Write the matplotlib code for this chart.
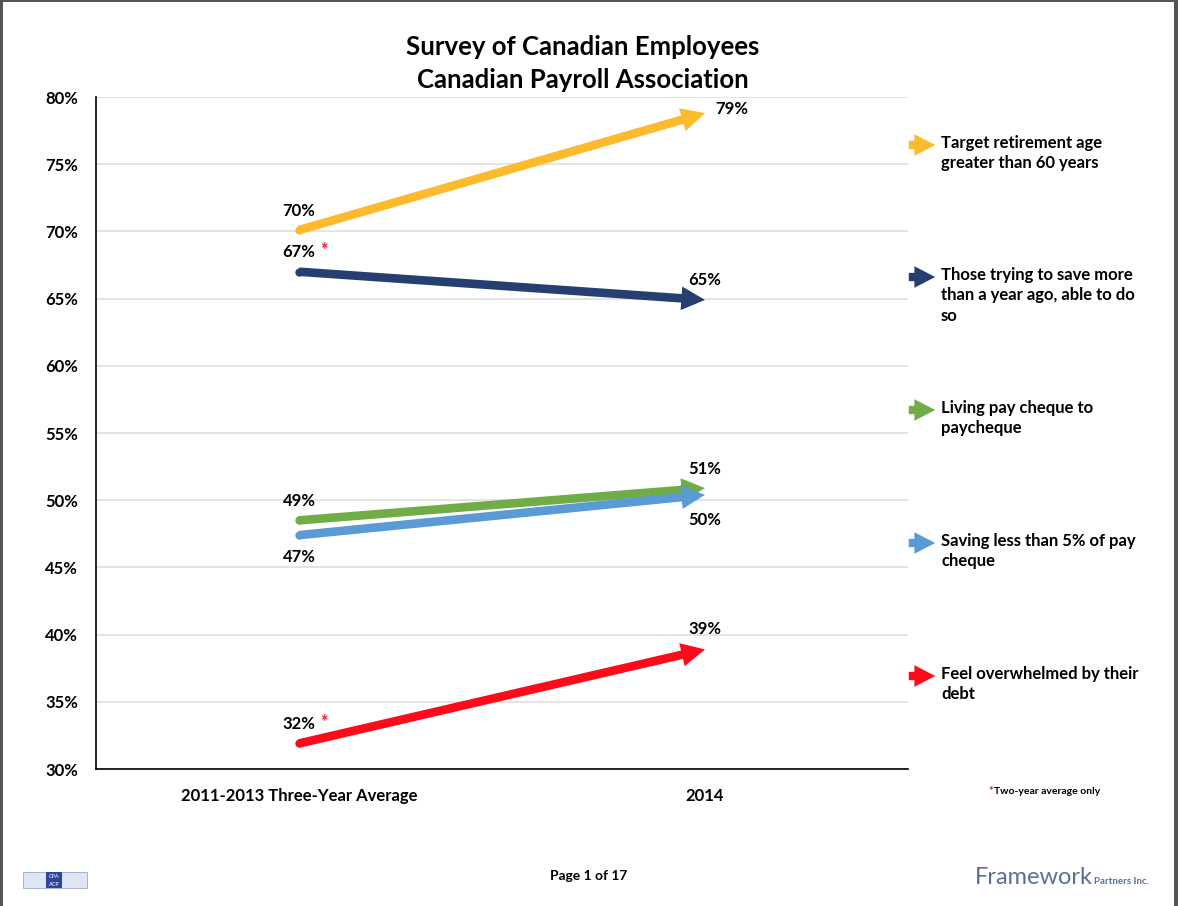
import matplotlib
matplotlib.use("Agg")
import matplotlib.pyplot as plt
from matplotlib.patches import Rectangle, FancyArrowPatch

plt.rcParams['font.family'] = ['Lato', 'DejaVu Sans']

# data
categories = ["2011-2013 Three-Year Average", "2014"]
series_names = [
    "Target retirement age\ngreater than 60 years",
    "Those trying to save more\nthan a year ago, able to do\nso",
    "Living pay cheque to\npaycheque",
    "Saving less than 5% of pay\ncheque",
    "Feel overwhelmed by their\ndebt",
]
start_vals = [70.1, 67.0, 48.5, 47.4, 31.9]
end_vals = [78.8, 64.9, 50.9, 50.4, 38.9]
start_labels = ["70%", "67%", "49%", "47%", "32%"]
end_labels = ["79%", "65%", "51%", "50%", "39%"]
two_year = [False, True, False, False, True]
colors = ["#FDBA2D", "#243F70", "#70AD47", "#5B9BD5", "#FF0A1A"]
yticks = [30, 35, 40, 45, 50, 55, 60, 65, 70, 75, 80]

W, H = 1178, 906
fig = plt.figure(figsize=(W / 100, H / 100), dpi=100)
ax = fig.add_axes([96 / W, 1 - 769 / H, (908 - 96) / W, (769 - 97) / H])

ax.set_xlim(-0.5, 1.5)
ax.set_ylim(30, 80)
ax.set_yticks(yticks)
ax.set_yticklabels([f"{t}%" for t in yticks], fontsize=12, fontweight='bold')
ax.set_xticks([0, 1])
ax.set_xticklabels(categories, fontsize=12, fontweight='bold')
ax.tick_params(axis='both', length=0)
ax.tick_params(axis='y', pad=13)
ax.tick_params(axis='x', pad=14)
ax.grid(axis='y', color='#dddddd', lw=1.1)
ax.set_axisbelow(True)
for s in ['top', 'right']:
    ax.spines[s].set_visible(False)
ax.spines['left'].set_linewidth(1.2)
ax.spines['bottom'].set_linewidth(1.2)

# label offsets in points (start, end)
start_off = [(0, 14), (0, 14), (0, 14), (0, -16), (0, 14)]
end_off = [(19, 3), (0, 14), (0, 14), (0, -18), (0, 15)]

arrow_style = 'simple,head_length=17,head_width=17,tail_width=6.2'
for i in range(len(start_vals)):
    ax.annotate('', xy=(1, end_vals[i]), xytext=(0, start_vals[i]),
                arrowprops=dict(arrowstyle=arrow_style, mutation_scale=1,
                                facecolor=colors[i], edgecolor='none', lw=0,
                                shrinkA=0, shrinkB=0), zorder=3)
    ax.plot(0, start_vals[i], 'o', ms=6.0, color=colors[i], mew=0, zorder=3)
    ax.annotate(start_labels[i], xy=(0, start_vals[i]), xytext=start_off[i],
                textcoords='offset points', ha='center', va='center',
                fontsize=12, fontweight='bold')
    if two_year[i]:
        ax.annotate('*', xy=(0, start_vals[i]), xytext=(start_off[i][0] + 18, start_off[i][1] + 1),
                    textcoords='offset points', ha='center', va='center',
                    fontsize=13, fontweight='bold', color='#e0202a')
    ax.annotate(end_labels[i], xy=(1, end_vals[i]), xytext=end_off[i],
                textcoords='offset points', ha='center', va='center',
                fontsize=12, fontweight='bold')

# legend on the right
leg_y = [145, 277, 410, 543, 676]
for i in range(len(series_names)):
    y = 1 - leg_y[i] / H
    fig.add_artist(FancyArrowPatch(
        (906 / W, y), (938 / W, y), transform=fig.transFigure,
        arrowstyle='simple,head_length=15,head_width=15.5,tail_width=6',
        mutation_scale=1, facecolor=colors[i], edgecolor='none', lw=0))
    fig.text(941 / W, y + 10 / H, series_names[i], ha='left', va='top',
             fontsize=12, fontweight='bold', linespacing=1.33)

# title
fig.text(583 / W, 1 - 47 / H, "Survey of Canadian Employees", ha='center', va='center',
         fontsize=18.5, fontweight='bold')
fig.text(583 / W, 1 - 80 / H, "Canadian Payroll Association", ha='center', va='center',
         fontsize=18.5, fontweight='bold')

# footnote
fig.text(993 / W, 1 - 791 / H, "*", ha='right', va='center', fontsize=8,
         fontweight='bold', color='#e0202a')
fig.text(994 / W, 1 - 792 / H, "Two-year average only", ha='left', va='center',
         fontsize=7.5, fontweight='bold')

# footer
fig.text(589 / W, 1 - 876 / H, "Page 1 of 17", ha='center', va='center',
         fontsize=10, fontweight='bold')
fig.text(975 / W, 1 - 878 / H, "Framework", ha='left', va='center',
         fontsize=17, color='#5a6f96')
fig.text(1094 / W, 1 - 882 / H, "Partners Inc.", ha='left', va='center',
         fontsize=7, fontweight='bold', color='#5a6f96')

# small association logo
fig.add_artist(Rectangle((23 / W, 1 - 888 / H), 64 / W, 16 / H, transform=fig.transFigure,
                         facecolor='#dfe5f2', edgecolor='#9aa8cc', lw=0.6))
fig.add_artist(Rectangle((46 / W, 1 - 888 / H), 16 / W, 16 / H, transform=fig.transFigure,
                         facecolor='#2b45a0', edgecolor='none'))
fig.text(54 / W, 1 - 876 / H, "CPA", ha='center', va='center', fontsize=4, color='white')
fig.text(54 / W, 1 - 884 / H, "ACP", ha='center', va='center', fontsize=4, color='white')

# page border
fig.add_artist(Rectangle((0, 0), 3 / W, 1, transform=fig.transFigure, facecolor='#555555', edgecolor='none'))
fig.add_artist(Rectangle((0, 1 - 2 / H), 1, 2 / H, transform=fig.transFigure, facecolor='#555555', edgecolor='none'))
fig.add_artist(Rectangle((1 - 4 / W, 0), 4 / W, 1, transform=fig.transFigure, facecolor='#555555', edgecolor='none'))

fig.savefig("out.png", dpi=100)
